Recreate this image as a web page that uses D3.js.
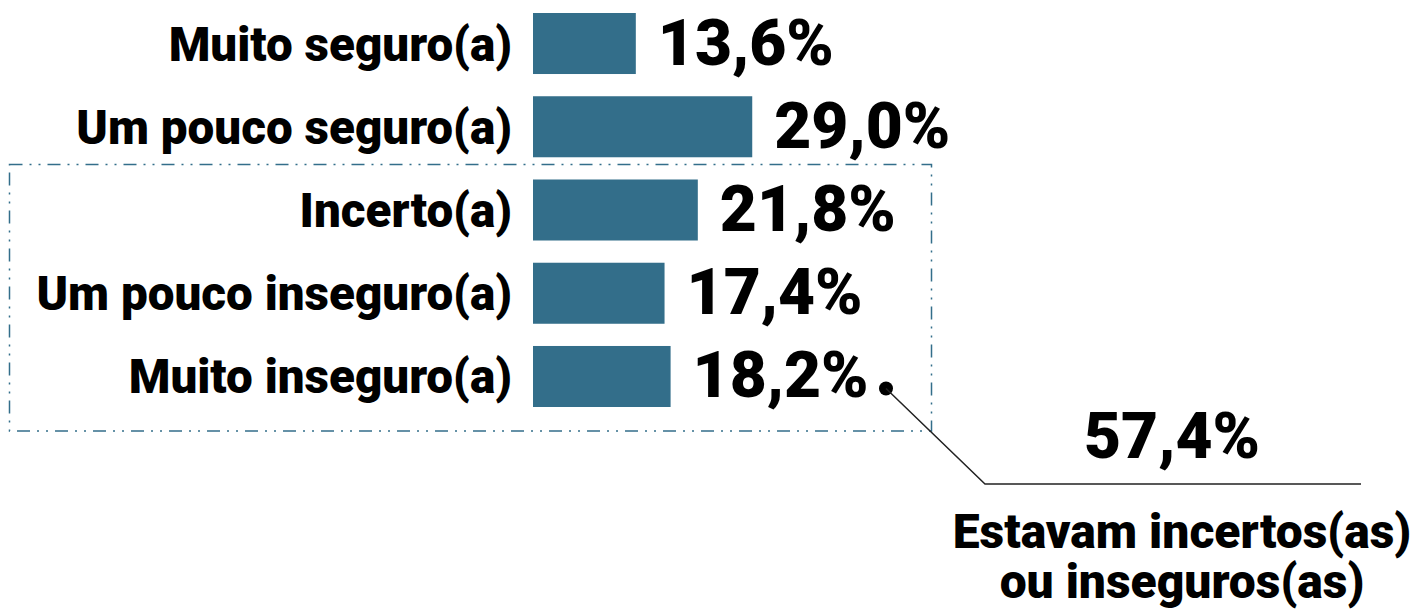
<!DOCTYPE html>
<html>
<head>
<meta charset="utf-8">
<script src="https://cdn.jsdelivr.net/npm/d3@7"></script>
<style>
  body { margin: 0; background: #fff; }
  text { font-family: Roboto, "Noto Sans", sans-serif; font-weight: 900; fill: #000; }
</style>
</head>
<body>
<svg width="1426" height="612"></svg>
<script>
const categories = ["Muito seguro(a)", "Um pouco seguro(a)", "Incerto(a)", "Um pouco inseguro(a)", "Muito inseguro(a)"];
const values = [13.6, 29.0, 21.8, 17.4, 18.2];
const valueLabels = ["13,6%", "29,0%", "21,8%", "17,4%", "18,2%"];
const groupedCategories = ["Incerto(a)", "Um pouco inseguro(a)", "Muito inseguro(a)"];
const totalLabel = "57,4%";
const noteLines = ["Estavam incertos(as)", "ou inseguros(as)"];

const svg = d3.select("svg");
const barColor = "#336e8a";

const x = d3.scaleLinear()
    .domain([0, 100])
    .range([533, 533 + 756]);

const y = d3.scaleBand()
    .domain(categories)
    .range([13, 407])
    .paddingInner(0.267);

// dash-dot box around the uncertain / insecure group
const boxTop = y(groupedCategories[0]) - 15;
const boxBottom = y(groupedCategories[groupedCategories.length - 1]) + y.bandwidth() + 24;
svg.append("rect")
    .attr("x", 9.5)
    .attr("y", boxTop)
    .attr("width", 922)
    .attr("height", boxBottom - boxTop)
    .attr("fill", "none")
    .attr("stroke", barColor)
    .attr("stroke-width", 1.5)
    .attr("stroke-dasharray", "13,7,2,7,2,7");

svg.selectAll(".bar")
    .data(categories)
    .enter()
    .append("rect")
    .attr("class", "bar")
    .attr("x", x(0))
    .attr("y", d => y(d))
    .attr("width", (d, i) => x(values[i]) - x(0))
    .attr("height", y.bandwidth())
    .attr("fill", barColor);

svg.selectAll(".cat-label")
    .data(categories)
    .enter()
    .append("text")
    .attr("class", "cat-label")
    .attr("x", 512)
    .attr("y", d => y(d) + y.bandwidth() / 2 + 17)
    .attr("text-anchor", "end")
    .attr("font-size", "47.6px")
    .text(d => d);

svg.selectAll(".val-label")
    .data(categories)
    .enter()
    .append("text")
    .attr("class", "val-label")
    .attr("x", (d, i) => x(values[i]) + 22)
    .attr("y", d => y(d) + y.bandwidth() / 2 + 21)
    .attr("font-size", "64px")
    .text((d, i) => valueLabels[i]);

// annotation: dot, leader line, total and note
const last = categories[categories.length - 1];
const dotX = 886, dotY = y(last) + y.bandwidth() / 2 + 12;
svg.append("circle")
    .attr("cx", dotX)
    .attr("cy", dotY)
    .attr("r", 7)
    .attr("fill", "#000");

svg.append("polyline")
    .attr("points", [[dotX, dotY], [985, 484], [1361, 484]].map(p => p.join(",")).join(" "))
    .attr("fill", "none")
    .attr("stroke", "#222")
    .attr("stroke-width", 1.5);

svg.append("text")
    .attr("x", 1172)
    .attr("y", 458)
    .attr("text-anchor", "middle")
    .attr("font-size", "64px")
    .text(totalLabel);

svg.selectAll(".note")
    .data(noteLines)
    .enter()
    .append("text")
    .attr("class", "note")
    .attr("x", 1182)
    .attr("y", (d, i) => 548 + i * 50)
    .attr("text-anchor", "middle")
    .attr("font-size", "48px")
    .text(d => d);
</script>
</body>
</html>
